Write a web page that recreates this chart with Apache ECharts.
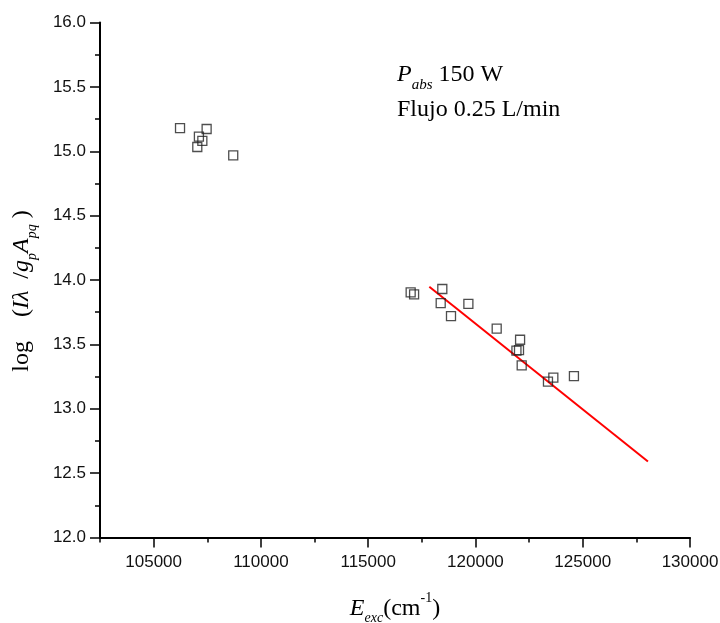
<!DOCTYPE html>
<html>
<head>
<meta charset="utf-8">
<script src="https://cdn.jsdelivr.net/npm/echarts@6/dist/echarts.min.js"></script>
<style>
html,body{margin:0;padding:0;background:#fff;}
#chart{width:720px;height:623px;}
</style>
</head>
<body>
<div id="chart"></div>
<script>
// Upper group (E_exc, log value)
var upperX = [106230, 107470, 107110, 107270, 107035, 108710];
var upperY = [15.180, 15.173, 15.113, 15.080, 15.033, 14.968];
// Lower group
var lowerX = [116980, 117140, 118455, 118380, 119670, 118860, 120990, 122080, 122030, 121910, 122155, 123380, 123630, 124590];
var lowerY = [13.904, 13.889, 13.930, 13.821, 13.814, 13.720, 13.622, 13.536, 13.456, 13.452, 13.337, 13.210, 13.241, 13.254];
// Linear fit line endpoints
var fitX = [117850, 128040];
var fitY = [13.948, 12.590];
// Axis ticks
var xMajorTicks = [105000, 110000, 115000, 120000, 125000, 130000];
var yTicks = [12.0, 12.5, 13.0, 13.5, 14.0, 14.5, 15.0, 15.5, 16.0];

function pairs(xs, ys){ return xs.map(function(x,i){ return [x, ys[i]]; }); }
var points = pairs(upperX, upperY).concat(pairs(lowerX, lowerY));

var serif = 'Liberation Serif';
var sans = 'Liberation Sans';
var richBase = {
  n:  {fontFamily: serif, fontSize: 24, lineHeight: 34, verticalAlign: 'middle', color: '#000'},
  it: {fontFamily: serif, fontSize: 24, fontStyle: 'italic', lineHeight: 34, verticalAlign: 'middle', color: '#000'},
  sub:{fontFamily: serif, fontSize: 14, fontStyle: 'italic', lineHeight: 14, verticalAlign: 'bottom', color: '#000'},
  sup:{fontFamily: serif, fontSize: 14, lineHeight: 14, verticalAlign: 'top', color: '#000'},
  pad:{width: 22, lineHeight: 34}
};

var chart = echarts.init(document.getElementById('chart'), null, {renderer: 'canvas'});
chart.setOption({
  backgroundColor: '#fff',
  animation: false,
  grid: {left: 100, right: 30, top: 22.5, bottom: 85.5, outerBoundsMode: 'none', containLabel: false},
  xAxis: [{
    type: 'value', position: 'bottom', min: 102500, max: 130000, interval: 2500,
    axisLine: {show: true, lineStyle: {color: '#000', width: 2}},
    axisTick: {show: true, length: 5, lineStyle: {color: '#000', width: 1.5}},
    axisLabel: {show: true, customValues: xMajorTicks, margin: 16, fontFamily: sans, fontSize: 17, color: '#111',
      formatter: function(v){ return String(Math.round(v)); }},
    splitLine: {show: false},
    name: '{it|E}{sub|exc}{n|(cm}{sup|-1}{n|)}',
    nameLocation: 'middle', nameGap: 54,
    nameTextStyle: {rich: richBase}
  }, {
    type: 'value', position: 'bottom', min: 102500, max: 130000, interval: 2500,
    axisLine: {show: false},
    axisTick: {show: true, customValues: xMajorTicks, length: 10, lineStyle: {color: '#000', width: 1.5}},
    axisLabel: {show: false},
    splitLine: {show: false}
  }],
  yAxis: [{
    type: 'value', min: 12, max: 16, interval: 0.5,
    axisLine: {show: true, lineStyle: {color: '#000', width: 2}},
    axisTick: {show: true, length: 10, lineStyle: {color: '#000', width: 1.5}},
    minorTick: {show: true, splitNumber: 2, length: 5, lineStyle: {color: '#000', width: 1.5}},
    axisLabel: {margin: 14, fontFamily: sans, fontSize: 17, color: '#111',
      formatter: function(v){ return v.toFixed(1); }},
    splitLine: {show: false},
    name: '{n|log    (}{it|Iλ  }{n|/}{it|g}{sub|p}{it|A}{sub|pq}{n| )}{pad|}',
    nameLocation: 'middle', nameRotate: 90, nameGap: 61,
    nameTextStyle: {rich: richBase}
  }],
  series: [{
    type: 'scatter', xAxisIndex: 0, yAxisIndex: 0,
    data: points, symbol: 'rect', symbolSize: 9,
    itemStyle: {color: 'rgba(255,255,255,0)', borderColor: '#222', borderWidth: 1.3},
    z: 3
  }, {
    type: 'line', xAxisIndex: 0, yAxisIndex: 0,
    data: pairs(fitX, fitY), showSymbol: false, symbol: 'none',
    lineStyle: {color: '#ff0000', width: 2}, z: 2
  }],
  graphic: [{
    type: 'text', left: 397, top: 63,
    style: {
      text: '{it|P}{sub|abs}{n| 150 W}\n{n|Flujo 0.25 L/min}',
      rich: {
        n:  {fontFamily: serif, fontSize: 24, lineHeight: 35, verticalAlign: 'middle', fill: '#000'},
        it: {fontFamily: serif, fontSize: 24, fontStyle: 'italic', lineHeight: 35, verticalAlign: 'middle', fill: '#000'},
        sub:{fontFamily: serif, fontSize: 15, fontStyle: 'italic', lineHeight: 15, verticalAlign: 'bottom', fill: '#000'}
      }
    }
  }]
});
</script>
</body>
</html>
